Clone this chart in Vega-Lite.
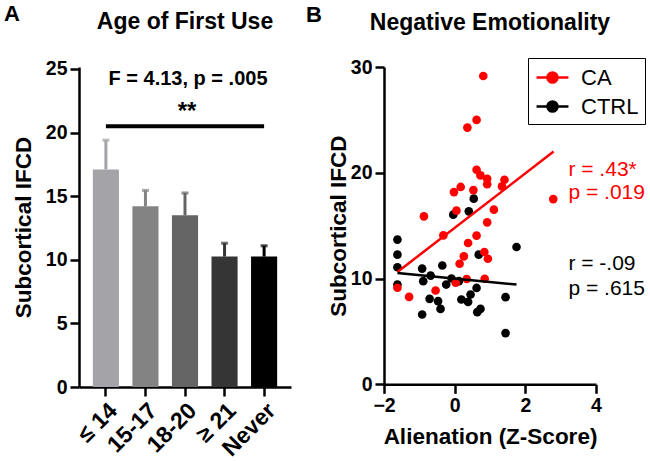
{
  "$schema": "https://vega.github.io/schema/vega-lite/v6.json",
  "background": "white",
  "padding": {"left": 3, "top": 2, "right": 0, "bottom": 0},
  "spacing": 93,
  "bounds": "flush",
  "resolve": {"scale": {"color": "independent"}},
  "datasets": {
    "bars": [
      {"age": "≤ 14", "mean": 17.1, "upper": 19.4},
      {"age": "15-17", "mean": 14.2, "upper": 15.45},
      {"age": "18-20", "mean": 13.5, "upper": 15.25},
      {"age": "≥ 21", "mean": 10.25, "upper": 11.3},
      {"age": "Never", "mean": 10.25, "upper": 11.1}
    ],
    "scatter": [
      {"group": "CTRL", "z": -1.62, "ifcd": 13.68},
      {"group": "CTRL", "z": -1.62, "ifcd": 12.26},
      {"group": "CTRL", "z": -1.62, "ifcd": 11.07},
      {"group": "CTRL", "z": -1.62, "ifcd": 9.43},
      {"group": "CTRL", "z": -0.92, "ifcd": 10.94},
      {"group": "CTRL", "z": -0.89, "ifcd": 9.75},
      {"group": "CTRL", "z": -0.68, "ifcd": 10.28},
      {"group": "CTRL", "z": -0.35, "ifcd": 11.23},
      {"group": "CTRL", "z": -0.24, "ifcd": 9.43},
      {"group": "CTRL", "z": -0.09, "ifcd": 10.0},
      {"group": "CTRL", "z": -0.04, "ifcd": 16.04},
      {"group": "CTRL", "z": 0.40, "ifcd": 16.35},
      {"group": "CTRL", "z": 0.54, "ifcd": 17.55},
      {"group": "CTRL", "z": 0.68, "ifcd": 12.26},
      {"group": "CTRL", "z": -0.71, "ifcd": 8.08},
      {"group": "CTRL", "z": -0.47, "ifcd": 7.86},
      {"group": "CTRL", "z": -0.40, "ifcd": 7.13},
      {"group": "CTRL", "z": -0.92, "ifcd": 6.60},
      {"group": "CTRL", "z": 0.19, "ifcd": 8.02},
      {"group": "CTRL", "z": 0.38, "ifcd": 7.79},
      {"group": "CTRL", "z": 0.45, "ifcd": 8.49},
      {"group": "CTRL", "z": 0.62, "ifcd": 9.11},
      {"group": "CTRL", "z": 0.64, "ifcd": 6.82},
      {"group": "CTRL", "z": 0.73, "ifcd": 7.13},
      {"group": "CTRL", "z": 1.44, "ifcd": 8.24},
      {"group": "CTRL", "z": 1.44, "ifcd": 4.84},
      {"group": "CTRL", "z": 1.75, "ifcd": 12.98},
      {"group": "CTRL", "z": 0.12, "ifcd": 9.75},
      {"group": "CA", "z": 0.81, "ifcd": 29.15},
      {"group": "CA", "z": 0.62, "ifcd": 25.0},
      {"group": "CA", "z": 0.36, "ifcd": 24.27},
      {"group": "CA", "z": 0.62, "ifcd": 20.28},
      {"group": "CA", "z": 0.73, "ifcd": 19.75},
      {"group": "CA", "z": 0.92, "ifcd": 19.43},
      {"group": "CA", "z": 0.92, "ifcd": 18.92},
      {"group": "CA", "z": 1.41, "ifcd": 19.34},
      {"group": "CA", "z": 1.34, "ifcd": 18.71},
      {"group": "CA", "z": 0.17, "ifcd": 18.66},
      {"group": "CA", "z": -0.02, "ifcd": 18.17},
      {"group": "CA", "z": 0.53, "ifcd": 18.36},
      {"group": "CA", "z": 2.79, "ifcd": 17.51},
      {"group": "CA", "z": -0.87, "ifcd": 15.88},
      {"group": "CA", "z": 0.05, "ifcd": 16.42},
      {"group": "CA", "z": 1.11, "ifcd": 16.51},
      {"group": "CA", "z": 0.92, "ifcd": 15.31},
      {"group": "CA", "z": -0.32, "ifcd": 14.08},
      {"group": "CA", "z": 0.62, "ifcd": 14.06},
      {"group": "CA", "z": 0.38, "ifcd": 13.36},
      {"group": "CA", "z": 0.26, "ifcd": 12.10},
      {"group": "CA", "z": 0.84, "ifcd": 12.51},
      {"group": "CA", "z": 0.94, "ifcd": 11.87},
      {"group": "CA", "z": 0.14, "ifcd": 11.40},
      {"group": "CA", "z": 0.34, "ifcd": 9.96},
      {"group": "CA", "z": 0.85, "ifcd": 9.98},
      {"group": "CA", "z": 0.03, "ifcd": 9.60},
      {"group": "CA", "z": -1.62, "ifcd": 9.13},
      {"group": "CA", "z": -1.29, "ifcd": 8.26},
      {"group": "CA", "z": -0.54, "ifcd": 8.87}
    ],
    "fits": [
      {"group": "CA", "z": -1.62, "ifcd": 10.62},
      {"group": "CA", "z": 2.80, "ifcd": 22.0},
      {"group": "CTRL", "z": -1.62, "ifcd": 10.53},
      {"group": "CTRL", "z": 1.75, "ifcd": 9.43}
    ],
    "notes": [
      {"group": "CA", "label": "r = .43*", "z": 3.22, "ifcd": 20.3},
      {"group": "CA", "label": "p = .019", "z": 3.22, "ifcd": 18.05},
      {"group": "CTRL", "label": "r = -.09", "z": 3.22, "ifcd": 11.35},
      {"group": "CTRL", "label": "p = .615", "z": 3.22, "ifcd": 9.0}
    ]
  },
  "hconcat": [
    {
      "width": 212,
      "height": 320,
      "resolve": {"scale": {"x": "independent"}},
      "layer": [
        {
          "layer": [
            {
              "data": {"name": "bars"},
              "mark": {"type": "bar"},
              "encoding": {
                "x": {"field": "age", "type": "nominal", "sort": null,
                  "scale": {"domain": ["≤ 14", "15-17", "18-20", "≥ 21", "Never"], "paddingInner": 0.34, "paddingOuter": 0.35},
                  "axis": {"title": null, "labelAngle": -45, "labelFontSize": 23, "labelPadding": 3}},
                "y": {"field": "mean", "type": "quantitative",
                  "scale": {"domain": [0, 25.15], "nice": false},
                  "axis": {"title": "Subcortical IFCD", "values": [0, 5, 10, 15, 20, 25], "titlePadding": 10, "labelFlush": false}},
                "color": {"field": "age", "type": "nominal",
                  "scale": {"domain": ["≤ 14", "15-17", "18-20", "≥ 21", "Never"], "range": ["#a3a3a8", "#838383", "#656565", "#353535", "#000000"]},
                  "legend": null}
              }
            },
            {
              "data": {"name": "bars"},
              "mark": {"type": "rule", "strokeWidth": 3},
              "encoding": {
                "x": {"field": "age", "type": "nominal"},
                "y": {"field": "mean", "type": "quantitative"},
                "y2": {"field": "upper"},
                "color": {"field": "age", "type": "nominal"}
              }
            },
            {
              "data": {"name": "bars"},
              "mark": {"type": "tick", "thickness": 3, "size": 7},
              "encoding": {
                "x": {"field": "age", "type": "nominal"},
                "y": {"field": "upper", "type": "quantitative"},
                "color": {"field": "age", "type": "nominal"}
              }
            },
            {
              "data": {"values": [{"from": "≤ 14", "to": "Never", "level": 20.5}]},
              "mark": {"type": "rule", "strokeWidth": 4, "color": "black"},
              "encoding": {
                "x": {"field": "from", "type": "nominal"},
                "x2": {"field": "to"},
                "y": {"field": "level", "type": "quantitative"}
              }
            },
            {
              "data": {"values": [{"label": "**", "at": "18-20", "level": 21.6}]},
              "mark": {"type": "text", "fontSize": 24, "fontWeight": "bold", "color": "black", "baseline": "middle", "dx": 2},
              "encoding": {
                "x": {"field": "at", "type": "nominal"},
                "y": {"field": "level", "type": "quantitative"},
                "text": {"field": "label"}
              }
            },
            {
              "data": {"values": [{"label": "F = 4.13, p = .005", "at": "18-20", "level": 24.2}]},
              "mark": {"type": "text", "fontSize": 20, "fontWeight": "bold", "color": "black", "baseline": "middle", "dx": 3},
              "encoding": {
                "x": {"field": "at", "type": "nominal"},
                "y": {"field": "level", "type": "quantitative"},
                "text": {"field": "label"}
              }
            },
            {
              "data": {"values": [{"label": "Age of First Use", "at": "18-20", "level": 28.1}]},
              "mark": {"type": "text", "fontSize": 23, "fontWeight": "bold", "color": "black", "baseline": "alphabetic"},
              "encoding": {
                "x": {"field": "at", "type": "nominal"},
                "y": {"field": "level", "type": "quantitative"},
                "text": {"field": "label"}
              }
            }
          ]
        },
        {
          "data": {"values": [{"label": "A", "pos": -0.354, "level": 28.77}]},
          "mark": {"type": "text", "fontSize": 22, "fontWeight": "bold", "color": "black", "align": "left", "baseline": "alphabetic"},
          "encoding": {
            "x": {"field": "pos", "type": "quantitative", "scale": {"domain": [0, 1], "nice": false}, "axis": null},
            "y": {"field": "level", "type": "quantitative"},
            "text": {"field": "label"}
          }
        }
      ]
    },
    {
      "width": 212,
      "height": 317.3,
      "layer": [
        {
          "data": {"name": "scatter"},
          "mark": {"type": "circle", "size": 75, "opacity": 1},
          "encoding": {
            "x": {"field": "z", "type": "quantitative",
              "scale": {"domain": [-2, 4], "nice": false},
              "axis": {"title": "Alienation (Z-Score)", "values": [-2, 0, 2, 4], "labelFlush": false, "titlePadding": 11}},
            "y": {"field": "ifcd", "type": "quantitative",
              "scale": {"domain": [0, 30], "nice": false},
              "axis": {"title": "Subcortical IFCD", "values": [0, 10, 20, 30], "labelFlush": false, "titlePadding": 0}},
            "color": {"field": "group", "type": "nominal",
              "scale": {"domain": ["CA", "CTRL"], "range": ["#ff0000", "#000000"]},
              "legend": {
                "orient": "none", "legendX": 144, "legendY": -9, "title": null,
                "padding": 6, "strokeColor": "black", "fillColor": "white",
                "symbolType": "M-1.33,0H1.33M-0.42,0A0.42,0.42,0,1,0,0.42,0A0.42,0.42,0,1,0,-0.42,0",
                "symbolSize": 576, "symbolStrokeWidth": 2.5, "symbolOffset": 5,
                "labelOffset": 15, "labelFontSize": 22, "labelFont": "Liberation Sans", "labelFontWeight": "normal",
                "labelExpr": "datum.label + '\u00a0\u00a0'",
                "rowPadding": 4,
                "encode": {
                  "symbols": {"update": {
                    "stroke": {"signal": "datum.value === 'CA' ? '#ff0000' : '#000000'"},
                    "fill": {"signal": "datum.value === 'CA' ? '#ff0000' : '#000000'"},
                    "opacity": {"value": 1}}},
                  "labels": {"update": {"fill": {"signal": "datum.value === 'CA' ? '#ff0000' : '#000000'"}}},
                  "legend": {"update": {"strokeWidth": {"value": 2}}}
                }
              }}
          }
        },
        {
          "data": {"name": "fits"},
          "mark": {"type": "line", "strokeWidth": 2.5},
          "encoding": {
            "x": {"field": "z", "type": "quantitative"},
            "y": {"field": "ifcd", "type": "quantitative"},
            "color": {"field": "group", "type": "nominal"}
          }
        },
        {
          "data": {"name": "notes"},
          "mark": {"type": "text", "fontSize": 21, "align": "left", "baseline": "middle"},
          "encoding": {
            "x": {"field": "z", "type": "quantitative"},
            "y": {"field": "ifcd", "type": "quantitative"},
            "text": {"field": "label"},
            "color": {"field": "group", "type": "nominal"}
          }
        },
        {
          "data": {"values": [{"label": "Negative Emotionality", "z": 1, "ifcd": 33.5}]},
          "mark": {"type": "text", "fontSize": 23, "fontWeight": "bold", "color": "black", "baseline": "alphabetic"},
          "encoding": {
            "x": {"field": "z", "type": "quantitative"},
            "y": {"field": "ifcd", "type": "quantitative"},
            "text": {"field": "label"}
          }
        },
        {
          "data": {"values": [{"label": "B", "z": -4.21, "ifcd": 34.3}]},
          "mark": {"type": "text", "fontSize": 22, "fontWeight": "bold", "color": "black", "align": "left", "baseline": "alphabetic"},
          "encoding": {
            "x": {"field": "z", "type": "quantitative"},
            "y": {"field": "ifcd", "type": "quantitative"},
            "text": {"field": "label"}
          }
        }
      ]
    }
  ],
  "config": {
    "font": "Liberation Sans",
    "view": {"stroke": null},
    "axis": {
      "domainColor": "black", "domainWidth": 2.5, "tickColor": "black", "tickWidth": 2.5, "tickSize": 9,
      "labelFont": "Liberation Sans", "labelFontSize": 19.5, "labelFontWeight": "bold", "labelColor": "black", "labelPadding": 3,
      "titleFont": "Liberation Sans", "titleFontSize": 22.5, "titleFontWeight": "bold", "titleColor": "black", "grid": false
    },
    "text": {"font": "Liberation Sans"}
  }
}
